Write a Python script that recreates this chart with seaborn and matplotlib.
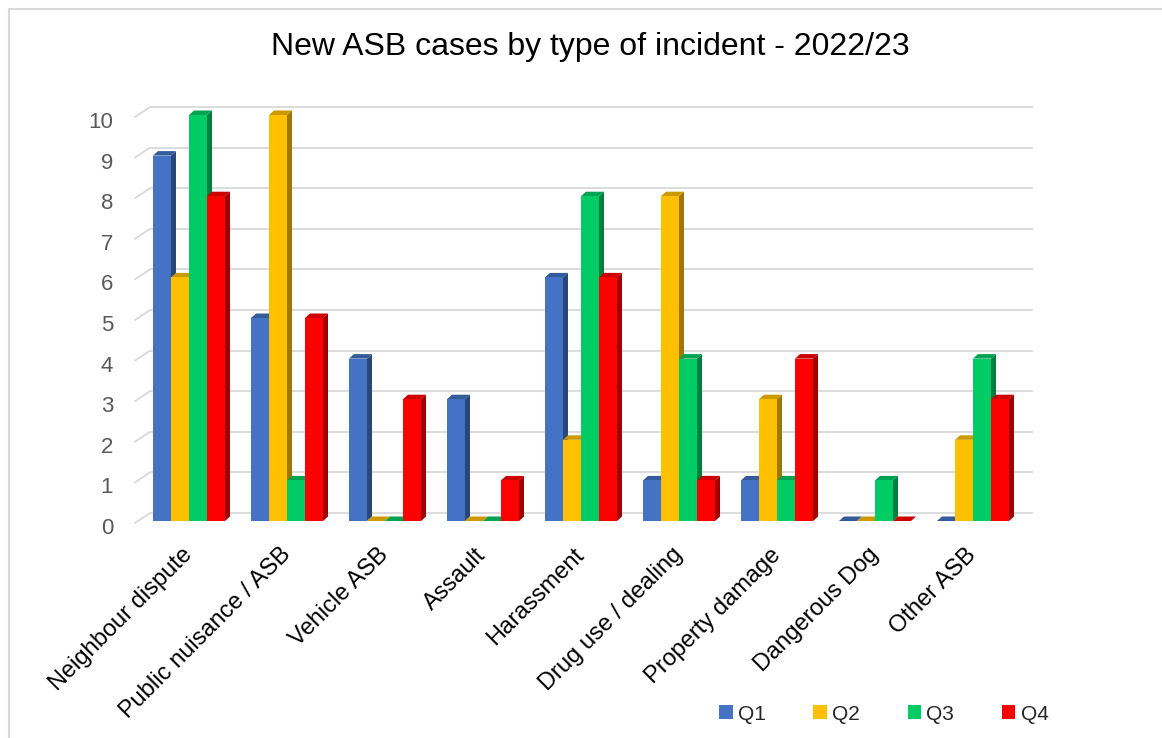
import numpy as np
import pandas as pd
import matplotlib
matplotlib.use("Agg")
import matplotlib.pyplot as plt
import matplotlib.colors as mcolors
from matplotlib.patches import Polygon, Rectangle, Patch
from matplotlib.transforms import ScaledTranslation
import seaborn as sns

# ---------------- data ----------------
categories = ["Neighbour dispute", "Public nuisance / ASB", "Vehicle ASB", "Assault",
              "Harassment", "Drug use / dealing", "Property damage", "Dangerous Dog", "Other ASB"]
quarters = ["Q1", "Q2", "Q3", "Q4"]
q1 = [9, 5, 4, 3, 6, 1, 1, 0, 0]
q2 = [6, 10, 0, 0, 2, 8, 3, 0, 2]
q3 = [10, 1, 0, 0, 8, 4, 1, 1, 4]
q4 = [8, 5, 3, 1, 6, 1, 4, 0, 3]
yticks = list(range(0, 11))
title = "New ASB cases by type of incident - 2022/23"
colors = ["#4472C4", "#FFC000", "#00CC66", "#FF0000"]

# ---------------- style ----------------
sns.set_theme(style="white")
plt.rcParams["font.family"] = ["Liberation Sans", "DejaVu Sans"]

df = pd.DataFrame({
    "category": categories * 4,
    "quarter": np.repeat(quarters, len(categories)),
    "value": q1 + q2 + q3 + q4,
})

W, H = 1162, 738
fig = plt.figure(figsize=(W / 100, H / 100), dpi=100)
ax_l, ax_b, ax_w, ax_h = 140, 521, 882, 406
ax = fig.add_axes([ax_l / W, (H - ax_b) / H, ax_w / W, ax_h / H])

sns.barplot(data=df, x="category", y="value", hue="quarter", palette=colors,
            width=0.735, saturation=1, errorbar=None, ax=ax, legend=False,
            linewidth=0, edgecolor="none")

ax.set_xlim(-0.5, len(categories) - 0.5)
ax.set_ylim(0, 10)
for s in ax.spines.values():
    s.set_visible(False)
ax.grid(False)

ux = (len(categories)) / ax_w   # data units per pixel (x)
uy = 10 / ax_h                  # data units per pixel (y)

# ---------------- pseudo-3D gridlines ----------------
gtr = ax.get_yaxis_transform()
gcol = "#D9D9D9"
for v in yticks:
    ax.plot([10 / ax_w, 1 + 11 / ax_w], [v + 8 * uy, v + 8 * uy], transform=gtr,
            color=gcol, lw=1.3, zorder=0.5, clip_on=False, solid_capstyle="butt")
    ax.plot([-5 / ax_w, 10 / ax_w], [v - 2 * uy, v + 8 * uy], transform=gtr,
            color=gcol, lw=1.3, zorder=0.5, clip_on=False)

# ---------------- pseudo-3D bars ----------------
dx, dy = 5 * ux, 4.5 * uy
patches = sorted([p for p in ax.patches if isinstance(p, Rectangle)], key=lambda p: p.get_x())
for i, p in enumerate(patches):
    x0, w, h = p.get_x(), p.get_width(), p.get_height()
    fc = np.array(mcolors.to_rgb(p.get_facecolor()))
    z = 2 + i * 0.01
    side = Polygon([(x0 + w, 0), (x0 + w + dx, dy), (x0 + w + dx, h + dy), (x0 + w, h)],
                   closed=True, facecolor=fc * 0.62, edgecolor="none", zorder=z, clip_on=False)
    top = Polygon([(x0, h), (x0 + dx, h + dy), (x0 + w + dx, h + dy), (x0 + w, h)],
                  closed=True, facecolor=fc * 0.8, edgecolor="none", zorder=z + 0.001, clip_on=False)
    ax.add_patch(side)
    ax.add_patch(top)
    p.set_zorder(z + 0.005)
    p.set_clip_on(False)

# ---------------- ticks ----------------
ax.set_yticks(yticks)
ax.set_yticklabels([str(t) for t in yticks])
ax.tick_params(axis="y", length=0, pad=19.4, labelsize=16, labelcolor="#595959")
for lab in ax.get_yticklabels():
    lab.set_transform(lab.get_transform() + ScaledTranslation(0, -5 / 100, fig.dpi_scale_trans))

ax.set_xticks(range(len(categories)))
ax.set_xticklabels(categories, rotation=45, ha="right", va="center", rotation_mode="anchor")
ax.tick_params(axis="x", length=0, pad=22, labelsize=17, labelcolor="#000000")
ax.set_xlabel("")
ax.set_ylabel("")

# ---------------- title ----------------
fig.text(590 / W, 1 - 47 / H, title, ha="center", va="center", fontsize=23, color="#000000")

# ---------------- legend ----------------
handles = [Patch(facecolor=c, edgecolor="none", label=q) for c, q in zip(colors, quarters)]
fig.legend(handles=handles, ncol=4, loc="center left", bbox_to_anchor=(719 / W, 1 - 714 / H),
           frameon=False, fontsize=15, handlelength=0.65, handleheight=0.65,
           handletextpad=0.25, columnspacing=2.29, borderpad=0, borderaxespad=0)

# ---------------- border ----------------
fig.add_artist(Rectangle((9 / W, -0.1), 1.2, 1.1 - 9 / H, transform=fig.transFigure,
                         fill=False, edgecolor="#D9D9D9", lw=1.5))

fig.savefig("out.png", dpi=100)
